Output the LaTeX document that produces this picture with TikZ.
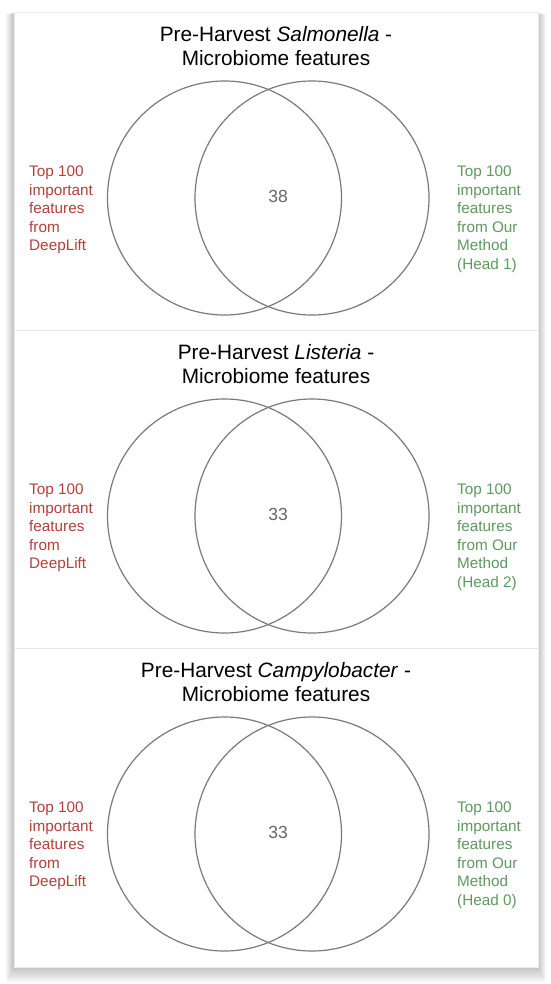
\documentclass[tikz,border=0pt]{standalone}
\usepackage{fontspec}
\setmainfont{Liberation Sans}
\usepackage{xcolor}
\usepackage{tikz}
\definecolor{deepred}{HTML}{B5403A}
\definecolor{ourgreen}{HTML}{5E9A5E}
\definecolor{ringgray}{HTML}{7A7A7A}
\definecolor{countgray}{HTML}{666666}

\begin{document}
\begin{tikzpicture}[x=1pt, y=-1pt, font=\fontsize{15.3}{18.5}\selectfont,
  ring/.style={draw=ringgray, line width=1.2pt, circle, minimum size=234pt, inner sep=0pt},
  sidelabel/.style={align=left, inner sep=0pt, anchor=west}]
  \useasboundingbox (0,0) rectangle (550,984);
  % card with its shadow
  \foreach \s in {1,...,8} {
    \fill[black, opacity=0.03] (14-\s, 12+0.3*\s) rectangle (538+\s, 967+1.9*\s);
  }
  \fill[white] (14,12) rectangle (538,967);
  \draw[gray!15] (14,12) rectangle (538,967);
  \foreach \y in {330,648} {
    \draw[gray!20, line width=1pt] (14,\y) -- (538,\y);
  }

  \def\drawVenn#1#2#3#4{
    \node[align=center, font=\fontsize{20.8}{24.5}\selectfont] (title#1)
      at (276,46+318*#1) {Pre-Harvest \textit{#2} -\\Microbiome features};
    \node[ring] (deeplift#1) at (224.5,198+318*#1) {};
    \node[ring] (ours#1) at (312,198+318*#1) {};
    \node[text=countgray, font=\fontsize{17.5}{20}\selectfont] (common#1)
      at (278,196+318*#1) {#3};
    \node[sidelabel, text=deepred] (left#1) at (29,210+318*#1)
      {Top 100\\important\\features\\from\\DeepLift};
    \node[sidelabel, text=ourgreen] (right#1) at (457,219+318*#1)
      {Top 100\\important\\features\\from Our\\Method\\(Head #4)};
  }

  \drawVenn{0}{Salmonella}{38}{1}
  \drawVenn{1}{Listeria}{33}{2}
  \drawVenn{2}{Campylobacter}{33}{0}
\end{tikzpicture}
\end{document}
